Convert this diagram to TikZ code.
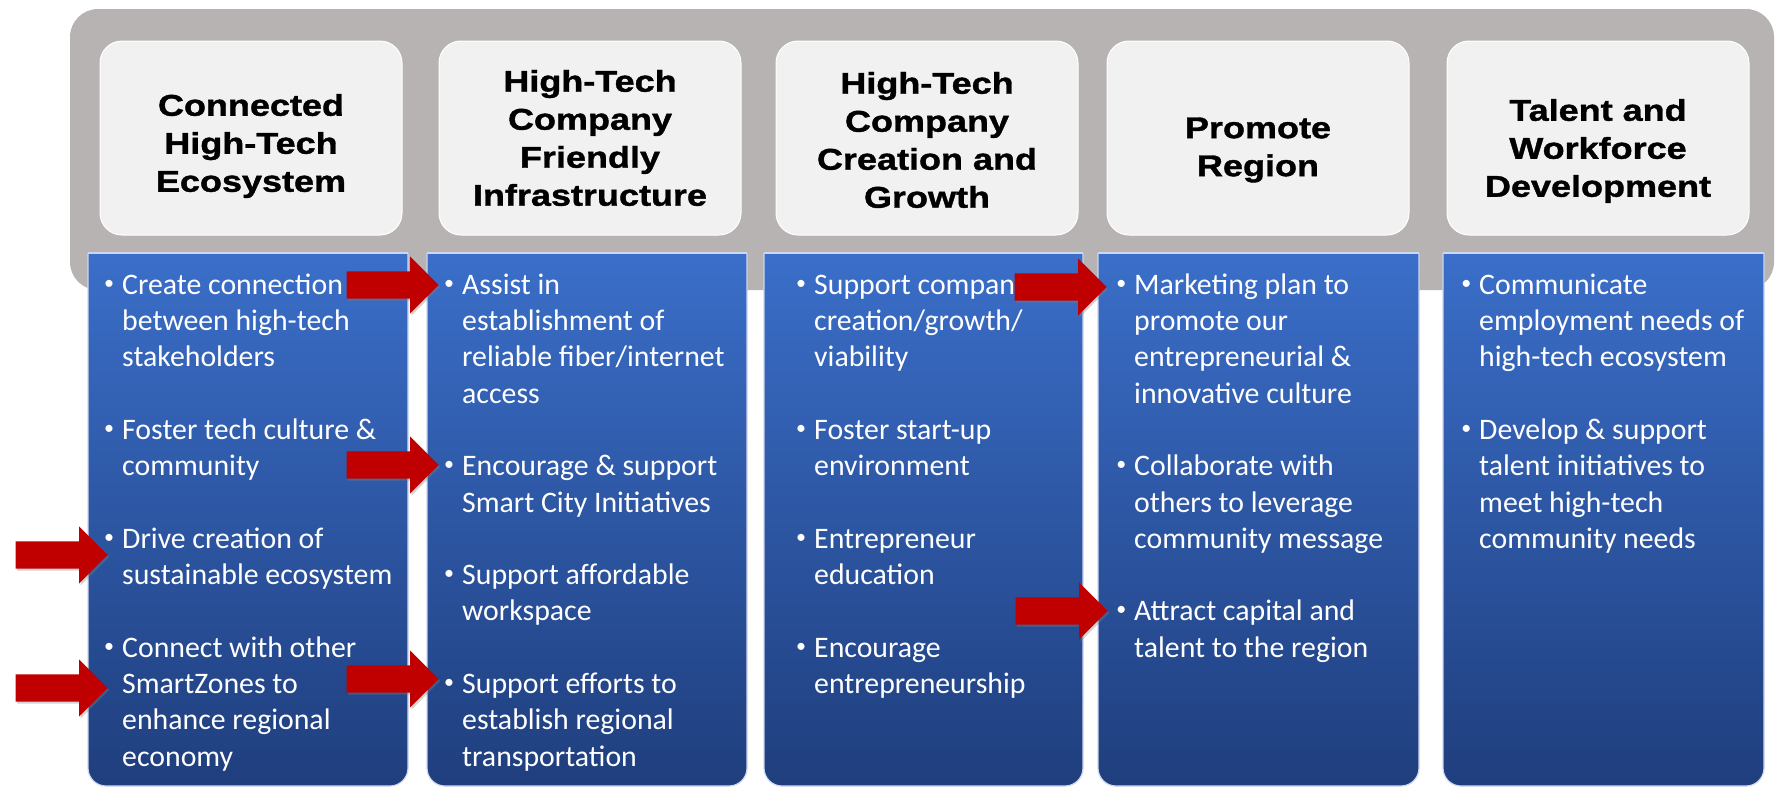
\documentclass[tikz,border=0pt]{standalone}
\usepackage{fontspec}
\setmainfont{Carlito}
\newfontfamily\headfont[FakeStretch=1.2,FakeBold=1.3]{Liberation Sans}
\usetikzlibrary{shapes.arrows,shadows}
\definecolor{panelgray}{RGB}{183,179,178}
\definecolor{headfill}{RGB}{241,241,241}
\definecolor{bluetop}{RGB}{60,113,205}
\definecolor{bluebot}{RGB}{31,62,125}
\definecolor{bluerim}{RGB}{205,214,238}
\definecolor{arrowred}{RGB}{192,0,0}
\newcommand{\bul}{\llap{\raisebox{5pt}{\fontsize{20}{20}\selectfont•}\hspace{8pt}}\rule{0pt}{25pt}}

\begin{document}
\begin{tikzpicture}
    [
        x = 1pt, y = -1pt,
        headbox/.style = {fill=headfill, draw=white, line width=1pt, rounded corners=22pt,
            minimum width=302pt, minimum height=194pt, inner sep=0pt},
        title/.style = {align=center, inner sep=0pt,
            font=\headfont\bfseries\fontsize{30}{38}\selectfont},
        column/.style = {top color=bluetop, bottom color=bluebot, draw=bluerim,
            line width=1.2pt, rounded corners=18pt},
        items/.style = {anchor=north west, align=left, inner sep=0pt, text=white,
            font=\fontsize{29.8}{36.3}\selectfont},
        marker/.style = {single arrow, fill=arrowred, minimum height=92pt,
            single arrow head extend=15pt, inner xsep=0pt, inner ysep=13.5pt, anchor=tip,
            drop shadow={opacity=0.35, shadow xshift=1.5pt, shadow yshift=-2pt}}
    ]
    \useasboundingbox (0,0) rectangle (1775,788);
    \fill[panelgray, rounded corners=28pt] (70,9) rectangle (1774,290);

    \node [headbox] at (251,138) (connectedbox) {};
    \node [headbox] at (590,138) (infrabox) {};
    \node [headbox] at (927,138) (creationbox) {};
    \node [headbox] at (1258,138) (promotebox) {};
    \node [headbox] at (1598,138) (talentbox) {};
    \node [title] at ([yshift=-8pt]connectedbox.center) (connected) {Connected\\High-Tech\\Ecosystem};
    \node [title] at (infrabox.center) (infra) {High-Tech\\Company\\Friendly\\Infrastructure};
    \node [title] at ([yshift=-2pt]creationbox.center) (creation) {High-Tech\\Company\\Creation and\\Growth};
    \node [title] at ([yshift=-12pt]promotebox.center) (promote) {Promote\\Region};
    \node [title] at ([yshift=-13pt]talentbox.center) (talent) {Talent and\\Workforce\\Development};

    \foreach \l/\r in {88/408, 427/747, 764/1083, 1098/1419, 1443/1764} {
        \begin{scope}
            \clip (\l-3,253) rectangle (\r+3,790);
            \draw [column] (\l,225) rectangle (\r,786);
        \end{scope}
        \draw [bluerim, line width=1.2pt] (\l,253) -- (\r,253);
    }

    \node [items] at (122,269) (ecoitems) {\bul Create connection\\between high-tech\\stakeholders\\[36.3pt]
        \bul Foster tech culture \&\\community\\[36.3pt]
        \bul Drive creation of\\sustainable ecosystem\\[36.3pt]
        \bul Connect with other\\SmartZones to\\enhance regional\\economy};
    \node [items] at (462,269) (infraitems) {\bul Assist in\\establishment of\\reliable fiber/internet\\access\\[36.3pt]
        \bul Encourage \& support\\Smart City Initiatives\\[36.3pt]
        \bul Support affordable\\workspace\\[36.3pt]
        \bul Support efforts to\\establish regional\\transportation};
    \node [items] at (814,269) (creationitems) {\bul Support company\\creation/growth/\\viability\\[36.3pt]
        \bul Foster start-up\\environment\\[36.3pt]
        \bul Entrepreneur\\education\\[36.3pt]
        \bul Encourage\\entrepreneurship};
    \node [items] at (1134,269) (promoteitems) {\bul Marketing plan to\\promote our\\entrepreneurial \&\\innovative culture\\[36.3pt]
        \bul Collaborate with\\others to leverage\\community message\\[36.3pt]
        \bul Attract capital and\\talent to the region};
    \node [items] at (1479,269) (talentitems) {\bul Communicate\\employment needs of\\high-tech ecosystem\\[36.3pt]
        \bul Develop \& support\\talent initiatives to\\meet high-tech\\community needs};

    \node [marker] at (439,285) (assist) {};
    \node [marker] at (439,465) (smartcity) {};
    \node [marker] at (108,555) (sustain) {};
    \node [marker] at (108,688) (smartzones) {};
    \node [marker] at (439,679) (transport) {};
    \node [marker] at (1107,287) (marketing) {};
    \node [marker] at (1108,611) (capital) {};
\end{tikzpicture}
\end{document}
